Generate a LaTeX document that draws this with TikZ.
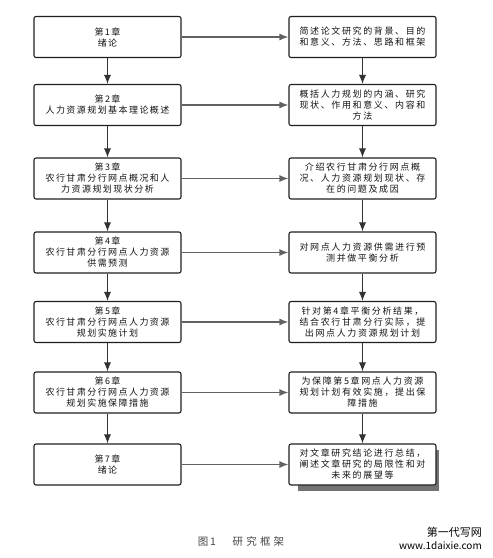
\documentclass[tikz,border=0pt]{standalone}
\usepackage{fontspec}
\newfontfamily\cjk[LetterSpace=16]{Noto Sans CJK SC}
\newfontfamily\cjkr[LetterSpace=18]{Noto Sans CJK SC}
\newfontfamily\cjkw{Noto Sans CJK SC}
\newfontfamily\cjkc[LetterSpace=30]{Noto Sans CJK SC}
\usetikzlibrary{arrows.meta}
\begin{document}
\begin{tikzpicture}[x=1pt,y=-1pt,
  box/.style={draw=black!88,line width=1.1pt,rounded corners=2pt,fill=white,
    minimum width=147pt,minimum height=41pt,align=center,inner sep=1pt,
    font=\fontsize{9pt}{11pt}\selectfont\cjk,text=black!92},
  rbox/.style={box,font=\fontsize{9pt}{11pt}\selectfont\cjkr},
  varr/.style={draw=black!80,line width=1pt,-{Latex[length=9pt,width=7pt]}},
  harr/.style={draw=black!62,line width=1.3pt,-{Latex[length=9pt,width=7pt]}}]
\useasboundingbox (0,0) rectangle (493,558);
\fill[white] (0,0) rectangle (493,558);
% shadow of last right box
\fill[black!55] (298,450) rectangle (438.5,490.5);
\node[box] (l1) at (107.5,37) {第1章\\绪论};
\node[box] (l2) at (107.5,105) {第2章\\人力资源规划基本理论概述};
\node[box] (l3) at (107.5,178.5) {第3章\\农行甘肃分行网点概况和人\\力资源规划现状分析};
\node[box] (l4) at (107.5,252.5) {第4章\\农行甘肃分行网点人力资源\\供需预测};
\node[box] (l5) at (107.5,322) {第5章\\农行甘肃分行网点人力资源\\规划实施计划};
\node[box] (l6) at (107.5,392.5) {第6章\\农行甘肃分行网点人力资源\\规划实施保障措施};
\node[box] (l7) at (107.5,464.5) {第7章\\绪论};
\node[rbox] (r1) at (362.5,37) {简述论文研究的背景、目的\\和意义、方法、思路和框架};
\node[rbox] (r2) at (362.5,105) {概括人力规划的内涵、研究\\现状、作用和意义、内容和\\方法};
\node[rbox] (r3) at (362.5,178.5) {介绍农行甘肃分行网点概\\况、人力资源规划现状、存\\在的问题及成因};
\node[rbox] (r4) at (362.5,252.5) {对网点人力资源供需进行预\\测并做平衡分析};
\node[rbox] (r5) at (362.5,322) {针对第4章平衡分析结果，\\结合农行甘肃分行实际，提\\出网点人力资源规划计划};
\node[rbox] (r6) at (362.5,392.5) {为保障第5章网点人力资源\\规划计划有效实施，提出保\\障措施};
\node[rbox] (r7) at (362.5,464.5) {对文章研究结论进行总结，\\阐述文章研究的局限性和对\\未来的展望等};
\foreach \i/\j in {1/2,2/3,3/4,4/5,5/6,6/7}{
  \draw[varr] (l\i) -- (l\j);
  \draw[varr] (r\i) -- (r\j);
}
\foreach \i in {1,...,7}{
  \draw[harr] (l\i) -- (r\i);
}
\node[font=\fontsize{10.5pt}{12pt}\selectfont\cjkc,text=black!72] (cap) at (241,541) {图\,1\hspace{1.6em}研究框架};
\node[font=\fontsize{11pt}{12pt}\selectfont\cjkw,anchor=east,inner sep=0pt] (wm1) at (482,532) {第一代写网};
\node[font=\fontsize{10pt}{12pt}\selectfont\cjkw,anchor=east,inner sep=0pt] (wm2) at (482,546) {www.1daixie.com};
\end{tikzpicture}
\end{document}
